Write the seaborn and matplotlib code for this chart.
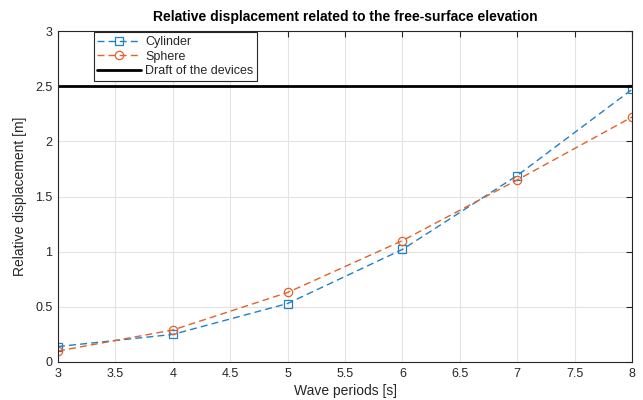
import matplotlib
matplotlib.use("Agg")
import matplotlib.pyplot as plt
import seaborn as sns
import pandas as pd

# Wave periods [s] and relative displacement [m] for each device
periods = [3, 4, 5, 6, 7, 8]
cylinder = [0.14, 0.25, 0.53, 1.02, 1.69, 2.47]
sphere = [0.10, 0.29, 0.63, 1.10, 1.65, 2.22]
draft = 2.5

x_ticks = [3, 3.5, 4, 4.5, 5, 5.5, 6, 6.5, 7, 7.5, 8]
y_ticks = [0, 0.5, 1, 1.5, 2, 2.5, 3]

sns.set_style("whitegrid")
plt.rcParams["font.family"] = ["Liberation Sans", "DejaVu Sans"]

df = pd.DataFrame({
    "period": periods * 2,
    "disp": cylinder + sphere,
    "device": ["Cylinder"] * len(periods) + ["Sphere"] * len(periods),
})

fig = plt.figure(figsize=(6.43, 4.00), dpi=100)
ax = fig.add_axes([58 / 643, 38 / 400, 574 / 643, 331 / 400])

palette = {"Cylinder": "#1f80c8", "Sphere": "#e0622c"}
sns.lineplot(data=df, x="period", y="disp", hue="device", style="device",
             markers={"Cylinder": "s", "Sphere": "o"},
             dashes={"Cylinder": (5, 3), "Sphere": (5, 3)},
             palette=palette, ax=ax, linewidth=1.0, markersize=6,
             markerfacecolor="none", markeredgewidth=0.9)
for line in ax.get_lines():
    line.set_markerfacecolor("none")
    line.set_markeredgecolor(line.get_color())
ax.axhline(draft, color="black", linewidth=2.0, label="Draft of the devices")

ax.set_xlim(3, 8)
ax.set_ylim(0, 3)
ax.set_xticks(x_ticks)
ax.set_xticklabels([f"{t:g}" for t in x_ticks])
ax.set_yticks(y_ticks)
ax.set_yticklabels([f"{t:g}" for t in y_ticks])
ax.grid(True, color="#e3e3e3", linewidth=0.8)
ax.tick_params(axis="both", direction="in", length=4, width=0.8,
               colors="#262626", labelsize=9, top=True, right=True,
               pad=4)
for s in ax.spines.values():
    s.set_visible(True)
    s.set_color("#262626")
    s.set_linewidth(0.8)

ax.set_xlabel("Wave periods [s]", fontsize=10, color="#262626", labelpad=3)
ax.set_ylabel("Relative displacement [m]", fontsize=10, color="#262626",
              labelpad=6)
ax.set_title("Relative displacement related to the free-surface elevation",
             fontsize=10, fontweight="bold", color="black", pad=7)

handles, labels = ax.get_legend_handles_labels()
leg = ax.legend(handles, labels, loc="upper left",
                bbox_to_anchor=(0.060, 1.0), fontsize=9, frameon=True,
                fancybox=False, edgecolor="#262626", framealpha=1,
                handlelength=3.5, borderpad=0.3, labelspacing=0.22,
                handletextpad=0.3, borderaxespad=0.1)
leg.get_frame().set_linewidth(0.8)

fig.savefig("out.png", dpi=100)
